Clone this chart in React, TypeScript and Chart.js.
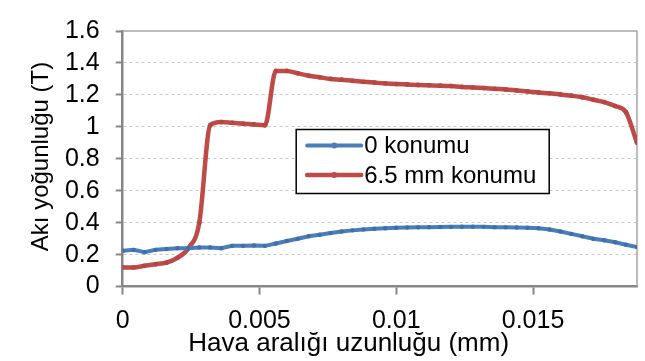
import React, { useEffect, useRef } from "react";
import { Chart, registerables } from "chart.js";

Chart.register(...registerables);

const xValues = [
  0, 0.0004, 0.0008, 0.0012, 0.0016, 0.002, 0.0024, 0.0028, 0.0032, 0.0036,
  0.004, 0.0044, 0.0048, 0.0052, 0.0056, 0.006, 0.0064, 0.0068, 0.0072, 0.0076,
  0.008, 0.0084, 0.0088, 0.0092, 0.0096, 0.01, 0.0104, 0.0108, 0.0112, 0.0116,
  0.012, 0.0124, 0.0128, 0.0132, 0.0136, 0.014, 0.0144, 0.0148, 0.0152, 0.0156,
  0.016, 0.0164, 0.0168, 0.0172, 0.0176, 0.018, 0.0184, 0.0188,
];

const series0 = [
  0.225, 0.23, 0.215, 0.23, 0.235, 0.24, 0.24, 0.245, 0.245, 0.24,
  0.255, 0.255, 0.258, 0.255, 0.27, 0.285, 0.3, 0.315, 0.325, 0.335,
  0.345, 0.352, 0.358, 0.362, 0.365, 0.368, 0.37, 0.371, 0.372, 0.373,
  0.374, 0.375, 0.375, 0.374, 0.372, 0.371, 0.37, 0.368, 0.365, 0.357,
  0.345, 0.33, 0.315, 0.3, 0.29, 0.278, 0.262, 0.248,
];

const series65 = [
  0.12, 0.12, 0.13, 0.14, 0.15, 0.18, 0.24, 0.4, 1.01, 1.03,
  1.025, 1.02, 1.015, 1.01, 1.35, 1.35, 1.335, 1.32, 1.31, 1.3,
  1.295, 1.288, 1.282, 1.277, 1.272, 1.268, 1.265, 1.262, 1.26, 1.258,
  1.255, 1.25, 1.247, 1.243, 1.238, 1.234, 1.228, 1.222, 1.215, 1.21,
  1.203, 1.195, 1.185, 1.17, 1.155, 1.13, 1.09, 0.9,
];

const seriesLabels = ["0 konumu", "6.5 mm konumu"];
const seriesColors = ["#4A7EBB", "#BE4B48"];

const xTicks = [0, 0.005, 0.01, 0.015];
const xTickLabels = ["0", "0.005", "0.01", "0.015"];
const yTicks = [0, 0.2, 0.4, 0.6, 0.8, 1, 1.2, 1.4, 1.6];
const yTickLabels = ["0", "0.2", "0.4", "0.6", "0.8", "1", "1.2", "1.4", "1.6"];

const xTitle = "Hava aralığı uzunluğu (mm)";
const yTitle = "Akı yoğunluğu (T)";

const FONT = '"Liberation Sans", Arial, sans-serif';
const AXIS = "#868686";

const framePlugin = {
  id: "frame",
  beforeDatasetsDraw(chart: any) {
    const { ctx, chartArea: ca } = chart;
    ctx.save();
    ctx.strokeStyle = "#A6A6A6";
    ctx.lineWidth = 1.5;
    ctx.beginPath();
    ctx.moveTo(ca.left, ca.top);
    ctx.lineTo(ca.right, ca.top);
    ctx.lineTo(ca.right, ca.bottom);
    ctx.stroke();
    ctx.restore();
  },
  afterDraw(chart: any) {
    const { ctx, chartArea: ca } = chart;
    ctx.save();
    // axis titles
    ctx.fillStyle = "#000000";
    ctx.font = "26px " + FONT;
    ctx.textAlign = "center";
    ctx.textBaseline = "alphabetic";
    ctx.fillText(xTitle, ca.left + 226, ca.bottom + 64);
    ctx.save();
    ctx.translate(ca.left - 74.7, ca.top + 125.5);
    ctx.rotate(-Math.PI / 2);
    ctx.font = "24px " + FONT;
    ctx.textBaseline = "alphabetic";
    ctx.fillText(yTitle, 0, 0);
    ctx.restore();

    // legend
    const left = ca.left + 173.5;
    const top = ca.top + 98.5;
    const w = 253;
    const h = 64;
    ctx.fillStyle = "#FFFFFF";
    ctx.fillRect(left, top, w, h);
    ctx.strokeStyle = "#000000";
    ctx.lineWidth = 1.5;
    ctx.strokeRect(left, top, w, h);
    ctx.font = "24px " + FONT;
    ctx.textBaseline = "middle";
    ctx.textAlign = "left";
    const rows = [top + 16, top + 45.5];
    rows.forEach((yy, i) => {
      ctx.strokeStyle = seriesColors[i];
      ctx.lineWidth = i === 0 ? 4 : 4.5;
      ctx.lineCap = "round";
      ctx.beginPath();
      ctx.moveTo(left + 11, yy);
      ctx.lineTo(left + 65, yy);
      ctx.stroke();
      ctx.fillStyle = seriesColors[i];
      ctx.beginPath();
      ctx.arc(left + 38, yy, 3, 0, Math.PI * 2);
      ctx.fill();
      ctx.fillStyle = "#000000";
      ctx.fillText(seriesLabels[i], left + 68, yy + 1);
    });
    ctx.restore();
  },
};

export default function App() {
  const ref = useRef<HTMLCanvasElement | null>(null);

  useEffect(() => {
    if (!ref.current) return;
    const chart = new Chart(ref.current, {
      type: "line",
      data: {
        datasets: [
          {
            label: seriesLabels[0],
            data: xValues.map((x, i) => ({ x, y: series0[i] })),
            borderColor: seriesColors[0],
            backgroundColor: seriesColors[0],
            borderWidth: 4,
            pointRadius: 2.2,
            pointBorderWidth: 0,
            pointBackgroundColor: "#3F6FAA",
            tension: 0,
          },
          {
            label: seriesLabels[1],
            data: xValues.map((x, i) => ({ x, y: series65[i] })),
            borderColor: seriesColors[1],
            backgroundColor: seriesColors[1],
            borderWidth: 4.5,
            pointRadius: 2.4,
            pointBorderWidth: 0,
            pointBackgroundColor: "#B84542",
            cubicInterpolationMode: "monotone",
          },
        ],
      },
      options: {
        responsive: false,
        animation: false,
        events: [],
        layout: { padding: { left: 0, right: 8, top: 17.8, bottom: 0 } },
        plugins: {
          legend: { display: false },
          tooltip: { enabled: false },
        },
        scales: {
          x: {
            type: "linear",
            min: 0,
            max: 0.0188,
            afterBuildTicks: (s: any) => {
              s.ticks = xTicks.map((v) => ({ value: v }));
            },
            afterFit: (s: any) => {
              s.height = 74.4;
            },
            ticks: {
              color: "#000000",
              font: { family: FONT, size: 25 },
              padding: 12,
              maxRotation: 0,
              autoSkip: false,
              callback: (v: any) => {
                const i = xTicks.indexOf(Number(v));
                return i >= 0 ? xTickLabels[i] : "";
              },
            },
            grid: {
              drawOnChartArea: false,
              drawTicks: true,
              tickLength: 8,
              tickColor: AXIS,
              tickWidth: 2,
            },
            border: { display: true, color: AXIS, width: 2.5 },
            title: { display: false },
          },
          y: {
            type: "linear",
            min: 0,
            max: 1.6,
            afterBuildTicks: (s: any) => {
              s.ticks = yTicks.map((v) => ({ value: v }));
            },
            afterFit: (s: any) => {
              s.width = 122.7;
            },
            ticks: {
              color: "#000000",
              font: { family: FONT, size: 25 },
              padding: 16,
              autoSkip: false,
              callback: (v: any) => {
                const i = yTicks.findIndex((t) => Math.abs(t - Number(v)) < 1e-9);
                return i >= 0 ? yTickLabels[i] : "";
              },
            },
            grid: {
              drawOnChartArea: true,
              drawTicks: true,
              tickLength: 7,
              tickColor: AXIS,
              tickWidth: 2,
              lineWidth: 1,
              color: (c: any) =>
                c.tick && (Math.abs(c.tick.value) < 1e-9 || Math.abs(c.tick.value - 1.6) < 1e-9)
                  ? "rgba(0,0,0,0)"
                  : "#C8C8C8",
            },
            border: { display: true, color: AXIS, width: 2.5, dash: [3, 3] },
            title: { display: false },
          },
        },
      },
      plugins: [framePlugin],
    } as any);
    return () => chart.destroy();
  }, []);

  return (
    <div style={{ position: "absolute", left: 0, top: 0, width: 645, height: 361, background: "#fff" }}>
      <canvas ref={ref} width={645} height={361} style={{ width: 645, height: 361, display: "block" }} />
    </div>
  );
}
